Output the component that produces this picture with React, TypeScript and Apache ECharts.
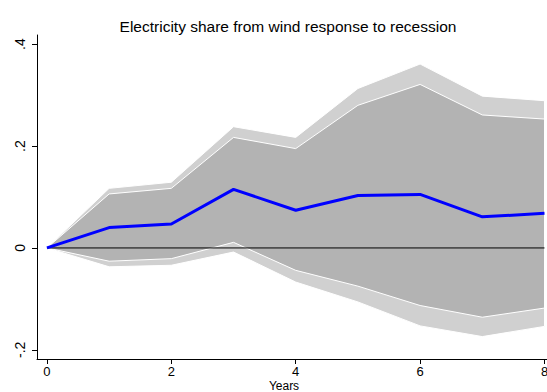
import React, { useEffect, useRef } from "react";
import * as echarts from "echarts";

const years = [0, 1, 2, 3, 4, 5, 6, 7, 8];
const response = [0, 0.04, 0.047, 0.115, 0.074, 0.103, 0.105, 0.061, 0.068];
const innerUpper = [0, 0.106, 0.117, 0.217, 0.195, 0.28, 0.321, 0.261, 0.253];
const innerLower = [0, -0.026, -0.021, 0.011, -0.044, -0.075, -0.113, -0.136, -0.118];
const outerUpper = [0, 0.117, 0.129, 0.238, 0.217, 0.313, 0.361, 0.298, 0.289];
const outerLower = [0, -0.037, -0.034, -0.008, -0.067, -0.106, -0.153, -0.174, -0.154];
const zeroLine = [[0, 0], [8, 0]];
const xTicks = [0, 2, 4, 6, 8];
const yTicks = [-0.2, 0, 0.2, 0.4];
const yTickLabels = ["-.2", "0", ".2", ".4"];

const pairs = (vals: number[]) => years.map((x, i) => [x, vals[i]]);
const bandData = (lo: number[], hi: number[]) => years.map((x, i) => [x, lo[i], hi[i]]);

function bandRenderer(fill: string) {
  return (params: any, api: any) => {
    if (params.dataIndexInside !== 0) return null;
    const n = params.dataInsideLength;
    const upper: number[][] = [];
    const lower: number[][] = [];
    for (let i = 0; i < n; i++) {
      const x = api.value(0, i);
      lower.push(api.coord([x, api.value(1, i)]));
      upper.push(api.coord([x, api.value(2, i)]));
    }
    const poly = upper.concat(lower.slice().reverse());
    return {
      type: "group",
      children: [
        {
          type: "polygon",
          shape: { points: poly },
          style: { fill, stroke: "#ffffff", lineWidth: 1 },
        },
      ],
    };
  };
}

export default function App() {
  const ref = useRef<HTMLDivElement>(null);
  useEffect(() => {
    if (!ref.current) return;
    const chart = echarts.init(ref.current, undefined, { renderer: "svg" });
    const font = "Liberation Sans, Arial, Helvetica, sans-serif";
    chart.setOption({
      animation: false,
      backgroundColor: "#ffffff",
      title: {
        text: "Electricity share from wind response to recession",
        left: 283,
        textAlign: "center",
        top: 13,
        textStyle: { fontFamily: font, fontSize: 15.5, fontWeight: "normal", color: "#000" },
      },
      grid: { left: 37, right: 0, top: 35, bottom: 33, containLabel: false, outerBoundsMode: "none" },
      xAxis: {
        type: "value",
        min: -0.16,
        max: 8.04,
        name: "Years",
        nameLocation: "middle",
        nameGap: 20.5,
        nameMoveOverlap: false,
        nameTextStyle: { fontFamily: font, fontSize: 12, color: "#000", padding: [0, 16, 0, 0] },
        axisLine: { show: true, onZero: false, lineStyle: { color: "#000", width: 1 } },
        axisTick: { show: true, length: 5, customValues: xTicks, lineStyle: { color: "#000" } },
        axisLabel: {
          customValues: xTicks,
          fontFamily: font,
          fontSize: 13,
          color: "#000",
          margin: 6,
        },
        splitLine: { show: false },
      },
      yAxis: {
        type: "value",
        min: -0.218,
        max: 0.418,
        axisLine: { show: true, onZero: false, lineStyle: { color: "#000", width: 1 } },
        axisTick: { show: true, length: 5, customValues: yTicks, lineStyle: { color: "#000" } },
        axisLabel: {
          customValues: yTicks,
          rotate: 90,
          fontFamily: font,
          fontSize: 14,
          color: "#000",
          margin: 10,
          formatter: (v: number) => {
            const i = yTicks.findIndex((t) => Math.abs(t - v) < 1e-9);
            return i >= 0 ? yTickLabels[i] : "";
          },
        },
        splitLine: { show: false },
      },
      series: [
        {
          type: "custom",
          silent: true,
          z: 2,
          renderItem: bandRenderer("#d0d0d0"),
          encode: { x: 0, y: [1, 2] },
          data: bandData(outerLower, outerUpper),
        },
        {
          type: "custom",
          silent: true,
          z: 3,
          renderItem: bandRenderer("#b3b3b3"),
          encode: { x: 0, y: [1, 2] },
          data: bandData(innerLower, innerUpper),
        },
        {
          type: "line",
          symbol: "none",
          silent: true,
          z: 4,
          data: zeroLine,
          lineStyle: { color: "#000000", width: 1 },
        },
        {
          type: "line",
          symbol: "none",
          silent: true,
          z: 5,
          data: pairs(response),
          lineStyle: { color: "#0000ff", width: 3 },
        },
      ],
    });
    return () => chart.dispose();
  }, []);
  return <div ref={ref} style={{ width: 547, height: 392, position: "absolute", left: 0, top: 0 }} />;
}
